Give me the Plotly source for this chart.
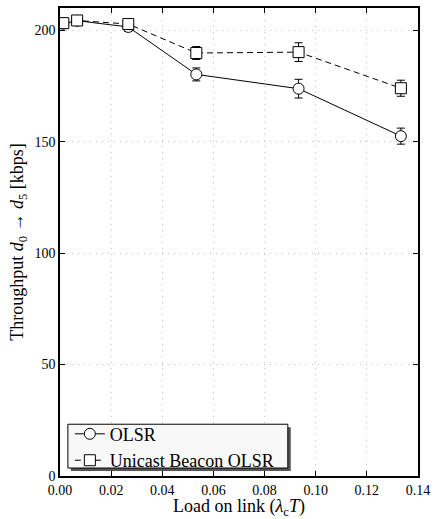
import plotly.graph_objects as go

loads = [0.0013, 0.0067, 0.0267, 0.0533, 0.0933, 0.1333]
olsr = [203.0, 204.3, 201.5, 180.2, 173.8, 152.5]
olsr_err = [1.0, 1.2, 2.0, 2.9, 4.2, 3.6]
ub_olsr = [203.2, 204.4, 202.8, 189.8, 190.2, 174.0]
ub_err = [1.0, 1.2, 1.8, 2.9, 4.2, 3.6]
series_names = ["OLSR", "Unicast Beacon OLSR"]
x_ticks = [0.00, 0.02, 0.04, 0.06, 0.08, 0.10, 0.12, 0.14]
y_ticks = [0, 50, 100, 150, 200]

FONT = "Liberation Serif, Times New Roman, serif"

fig = go.Figure()
fig.add_trace(go.Scatter(
    x=loads, y=olsr, name=series_names[0], mode="lines+markers",
    line=dict(color="black", width=1),
    marker=dict(symbol="circle", size=11, color="white", line=dict(color="black", width=1)),
    error_y=dict(type="data", array=olsr_err, color="black", thickness=1, width=4),
))
fig.add_trace(go.Scatter(
    x=loads, y=ub_olsr, name=series_names[1], mode="lines+markers",
    line=dict(color="black", width=1, dash="6px,4px"),
    marker=dict(symbol="square", size=11, color="white", line=dict(color="black", width=1)),
    error_y=dict(type="data", array=ub_err, color="black", thickness=1, width=4),
))

W, H = 436, 519
ml, mr, mt, mb = 60, 13, 6, 43
pw, ph = W - ml - mr, H - mt - mb

def px2paper(px, py):
    return (px - ml) / pw, (H - mb - py) / ph

bx0, by0 = px2paper(68, 468)
bx1, by1 = px2paper(291, 424)
sx0, sy0 = px2paper(71, 471)
sx1, sy1 = px2paper(294, 427)
lx, ly = px2paper(70, 447)

fig.update_layout(
    width=W, height=H,
    margin=dict(l=ml, r=mr, t=mt, b=mb),
    paper_bgcolor="white", plot_bgcolor="white",
    font=dict(family=FONT, color="black", size=14),
    showlegend=True,
    legend=dict(x=lx, y=ly, xanchor="left", yanchor="middle",
                bgcolor="rgba(0,0,0,0)", borderwidth=0,
                font=dict(family=FONT, size=18), itemwidth=30,
                tracegroupgap=0),
    shapes=[
        dict(type="rect", xref="paper", yref="paper", x0=sx0, x1=sx1, y0=sy0, y1=sy1,
             fillcolor="#555555", line=dict(width=0), layer="above"),
        dict(type="rect", xref="paper", yref="paper", x0=bx0, x1=bx1, y0=by0, y1=by1,
             fillcolor="#f8f8f8", line=dict(color="black", width=1), layer="above"),
    ],
    xaxis=dict(
        range=[0, 0.14], tickvals=x_ticks, tickformat=".2f",
        ticks="inside", ticklen=5, tickcolor="black", mirror="ticks",
        showline=True, linecolor="black", linewidth=1.5,
        showgrid=True, gridcolor="#c4c4c4", griddash="1px,5px", gridwidth=1,
        zeroline=False, tickfont=dict(size=14), ticklabeloverflow="allow",
        title=dict(text="Load on link (<i>λ</i><sub>c</sub><i>T</i>)", font=dict(size=18), standoff=3),
    ),
    yaxis=dict(
        range=[0, 210], tickvals=y_ticks,
        ticks="inside", ticklen=5, tickcolor="black", mirror="ticks",
        showline=True, linecolor="black", linewidth=1.5,
        showgrid=True, gridcolor="#c4c4c4", griddash="1px,5px", gridwidth=1,
        zeroline=False, tickfont=dict(size=14),
        title=dict(text="Throughput <i>d</i><sub>0</sub> → <i>d</i><sub>5</sub> [kbps]", font=dict(size=18), standoff=6),
    ),
)

fig.write_html("out.html")
